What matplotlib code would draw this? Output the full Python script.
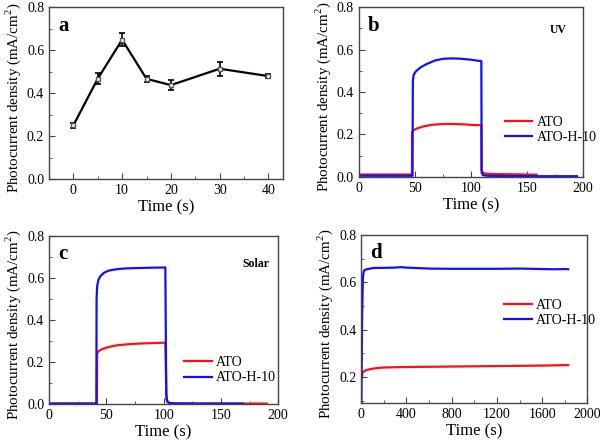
import matplotlib
matplotlib.use("Agg")
import matplotlib.pyplot as plt
from matplotlib.ticker import MultipleLocator

plt.rcParams['font.family'] = ['Liberation Serif', 'DejaVu Serif']
plt.rcParams['mathtext.fontset'] = 'custom'
plt.rcParams['mathtext.rm'] = 'Liberation Serif'

# panel a: photocurrent vs hydrogenation time
a_time = [0, 5, 10, 15, 20, 30, 40]
a_val = [0.250, 0.467, 0.648, 0.466, 0.437, 0.513, 0.479]
a_err = [0.012, 0.027, 0.031, 0.015, 0.025, 0.033, 0.011]

# panel b: UV on/off
b_ato_t = [0, 47.5, 47.6, 48.5, 52, 58, 65, 75, 85, 95, 103, 109.5, 109.7, 111, 113, 120, 140, 159]
b_ato_v = [0.011, 0.011, 0.21, 0.218, 0.228, 0.238, 0.245, 0.249, 0.249, 0.247, 0.244, 0.243,
           0.03, 0.02, 0.015, 0.013, 0.012, 0.010]
b_h10_t = [0, 48, 48.3, 49, 51, 55, 60, 68, 75, 82, 90, 100, 109.5, 109.8, 111, 115, 130, 160, 195]
b_h10_v = [0.005, 0.005, 0.45, 0.48, 0.497, 0.515, 0.53, 0.548, 0.556, 0.558, 0.557, 0.552, 0.545,
           0.02, 0.008, 0.005, 0.004, 0.003, 0.003]

# panel c: solar on/off
c_ato_t = [0, 41.8, 42, 43, 45, 50, 55, 60, 70, 80, 90, 101.5, 102.5, 103.5, 105, 110, 130, 170, 190]
c_ato_v = [0.002, 0.002, 0.24, 0.25, 0.258, 0.268, 0.275, 0.28, 0.285, 0.288, 0.29, 0.292,
           0.02, 0.008, 0.004, 0.002, 0.002, 0.002, 0.002]
c_h10_t = [0, 41.3, 41.5, 42, 43, 45, 48, 52, 58, 65, 75, 90, 101.5, 102.3, 103, 105, 110, 130, 169]
c_h10_v = [0.002, 0.002, 0.5, 0.56, 0.59, 0.61, 0.625, 0.635, 0.641, 0.645, 0.647, 0.649, 0.65,
           0.05, 0.015, 0.005, 0.003, 0.002, 0.002]

# panel d: long-term stability
d_ato_t = [8, 10, 20, 40, 70, 100, 150, 200, 300, 400, 600, 800, 1000, 1200, 1400, 1600, 1800, 1830]
d_ato_v = [0.2, 0.215, 0.222, 0.228, 0.232, 0.235, 0.238, 0.24, 0.241, 0.242, 0.243, 0.244,
           0.245, 0.246, 0.247, 0.248, 0.25, 0.25]
d_h10_t = [2, 8, 15, 22, 30, 50, 100, 150, 200, 300, 350, 400, 500, 600, 800, 1000, 1200, 1400,
           1600, 1700, 1800, 1830]
d_h10_v = [0.09, 0.45, 0.62, 0.645, 0.652, 0.655, 0.66, 0.661, 0.661, 0.662, 0.664, 0.662, 0.66,
           0.658, 0.657, 0.657, 0.657, 0.658, 0.656, 0.655, 0.656, 0.655]

ylab = "Photocurrent density (mA/cm$^2$)"
red = '#ff1010'
blue = '#1010ff'

fig = plt.figure(figsize=(6, 4.41), dpi=100)
axa = fig.add_axes([0.0817, 0.594, 0.39, 0.39])
axb = fig.add_axes([0.598, 0.599, 0.373, 0.385])
axc = fig.add_axes([0.0817, 0.0839, 0.382, 0.381])
axd = fig.add_axes([0.602, 0.0862, 0.377, 0.381])


def style(ax, letter):
    for s in ax.spines.values():
        s.set_color('#444444')
        s.set_linewidth(1.0)
    ax.tick_params(which='both', direction='in', top=False, right=False,
                   labelsize=10, color='#444444')
    ax.tick_params(which='major', length=4)
    ax.tick_params(which='minor', length=2.5)
    ax.set_xlabel("Time (s)", fontsize=12, labelpad=2)
    ax.set_ylabel(ylab, fontsize=10.8, labelpad=3, y=0.47)
    ax.text(0.04, 0.95, letter, transform=ax.transAxes, fontsize=15,
            fontweight='bold', va='top', ha='left')


# a
axa.errorbar(a_time, a_val, yerr=a_err, color='black', lw=1.6, marker='s', ms=3.5,
             mfc='white', mec='#555555', capsize=2.5, elinewidth=1.2, capthick=1.2)
axa.set_xlim(-5, 43)
axa.set_ylim(0, 0.8)
axa.xaxis.set_major_locator(MultipleLocator(10))
axa.xaxis.set_minor_locator(MultipleLocator(5))
axa.yaxis.set_major_locator(MultipleLocator(0.2))
axa.yaxis.set_minor_locator(MultipleLocator(0.1))
axa.yaxis.set_major_formatter(lambda v, p: f"{v:.1f}")
style(axa, 'a')

# b
axb.plot(b_ato_t, b_ato_v, color=red, lw=1.6, label='ATO')
axb.plot(b_h10_t, b_h10_v, color=blue, lw=1.6, label='ATO-H-10')
axb.set_xlim(0, 200)
axb.set_ylim(0, 0.8)
axb.xaxis.set_major_locator(MultipleLocator(50))
axb.xaxis.set_minor_locator(MultipleLocator(25))
axb.yaxis.set_major_locator(MultipleLocator(0.2))
axb.yaxis.set_minor_locator(MultipleLocator(0.1))
axb.yaxis.set_major_formatter(lambda v, p: f"{v:.1f}")
style(axb, 'b')
axb.text(0.93, 0.9, 'UV', transform=axb.transAxes, fontsize=8.5, fontweight='bold',
         ha='right', va='top')
axb.legend(loc='upper left', bbox_to_anchor=(0.62, 0.4), frameon=False, fontsize=10,
           handlelength=2.0, handletextpad=0.3, labelspacing=0.15, borderpad=0)

# c
axc.plot(c_ato_t, c_ato_v, color=red, lw=1.6, label='ATO')
axc.plot(c_h10_t, c_h10_v, color=blue, lw=1.6, label='ATO-H-10')
axc.set_xlim(0, 200)
axc.set_ylim(0, 0.8)
axc.xaxis.set_major_locator(MultipleLocator(50))
axc.xaxis.set_minor_locator(MultipleLocator(25))
axc.yaxis.set_major_locator(MultipleLocator(0.2))
axc.yaxis.set_minor_locator(MultipleLocator(0.1))
axc.yaxis.set_major_formatter(lambda v, p: f"{v:.1f}")
style(axc, 'c')
axc.text(0.96, 0.87, 'Solar', transform=axc.transAxes, fontsize=8.5, fontweight='bold',
         ha='right', va='top')
axc.legend(loc='upper left', bbox_to_anchor=(0.56, 0.325), frameon=False, fontsize=10,
           handlelength=2.0, handletextpad=0.3, labelspacing=0.15, borderpad=0)

# d
axd.plot(d_ato_t, d_ato_v, color=red, lw=1.6, label='ATO')
axd.plot(d_h10_t, d_h10_v, color=blue, lw=1.6, label='ATO-H-10')
axd.set_xlim(0, 2000)
axd.set_ylim(0.09, 0.8)
axd.xaxis.set_major_locator(MultipleLocator(400))
axd.xaxis.set_minor_locator(MultipleLocator(200))
axd.yaxis.set_major_locator(MultipleLocator(0.2))
axd.yaxis.set_minor_locator(MultipleLocator(0.1))
axd.yaxis.set_major_formatter(lambda v, p: f"{v:.1f}")
style(axd, 'd')
axd.legend(loc='upper left', bbox_to_anchor=(0.6, 0.66), frameon=False, fontsize=10,
           handlelength=2.0, handletextpad=0.3, labelspacing=0.15, borderpad=0)

fig.savefig("out.png", dpi=100)
